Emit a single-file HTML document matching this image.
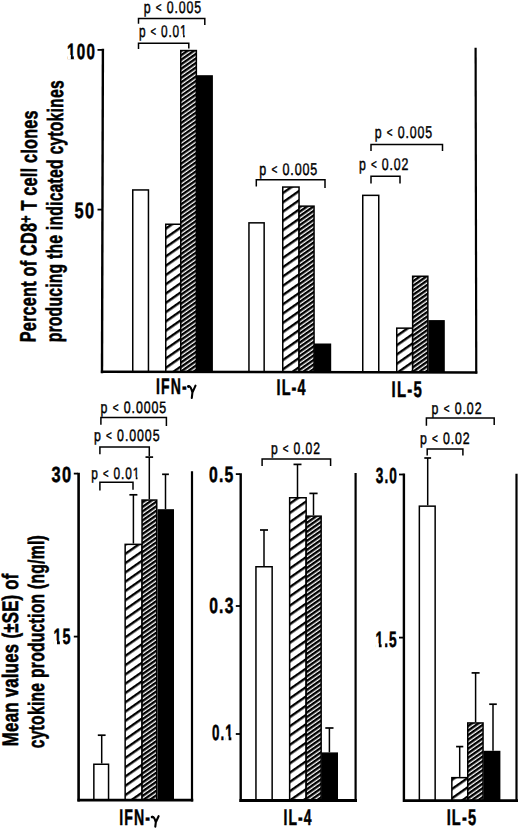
<!DOCTYPE html>
<html><head><meta charset="utf-8"><title>figure</title>
<style>
html,body{margin:0;padding:0;background:#fff;}
body{width:520px;height:829px;overflow:hidden;}
svg{display:block;}
text{font-family:"Liberation Sans", sans-serif;fill:#000;}
</style></head>
<body>
<svg width="520" height="829" viewBox="0 0 520 829" text-rendering="geometricPrecision">
<defs>
<pattern id="hs" patternUnits="userSpaceOnUse" width="20" height="7.6" patternTransform="rotate(-35)">
<rect x="0" y="0" width="20" height="7.6" fill="#fff"/><rect x="0" y="0" width="20" height="2.4" fill="#000"/></pattern>
<pattern id="hd" patternUnits="userSpaceOnUse" width="20" height="3.7" patternTransform="rotate(-35)">
<rect x="0" y="0" width="20" height="3.7" fill="#fff"/><rect x="0" y="0" width="20" height="2.4" fill="#000"/></pattern>
</defs>
<rect x="0" y="0" width="520" height="829" fill="#fff"/>
<rect x="132.75" y="189.95" width="15.70" height="182.15" fill="#fff" stroke="#000" stroke-width="1.5"/>
<rect x="165.75" y="224.25" width="15.00" height="147.85" fill="url(#hs)" stroke="#000" stroke-width="1.5"/>
<rect x="180.75" y="50.55" width="15.60" height="321.55" fill="url(#hd)" stroke="#000" stroke-width="1.5"/>
<rect x="197.65" y="75.95" width="14.50" height="296.15" fill="#000" stroke="#000" stroke-width="1.5"/>
<rect x="248.95" y="222.85" width="15.20" height="149.25" fill="#fff" stroke="#000" stroke-width="1.5"/>
<rect x="282.75" y="187.05" width="16.30" height="185.05" fill="url(#hs)" stroke="#000" stroke-width="1.5"/>
<rect x="299.05" y="206.15" width="15.00" height="165.95" fill="url(#hd)" stroke="#000" stroke-width="1.5"/>
<rect x="314.85" y="344.25" width="15.60" height="27.85" fill="#000" stroke="#000" stroke-width="1.5"/>
<rect x="362.75" y="195.35" width="16.00" height="176.75" fill="#fff" stroke="#000" stroke-width="1.5"/>
<rect x="396.75" y="328.15" width="15.90" height="43.95" fill="url(#hs)" stroke="#000" stroke-width="1.5"/>
<rect x="412.65" y="276.25" width="15.20" height="95.85" fill="url(#hd)" stroke="#000" stroke-width="1.5"/>
<rect x="429.15" y="320.85" width="14.90" height="51.25" fill="#000" stroke="#000" stroke-width="1.5"/>
<rect x="93.85" y="764.25" width="14.70" height="35.85" fill="#fff" stroke="#000" stroke-width="1.5"/>
<rect x="125.15" y="544.35" width="16.90" height="255.75" fill="url(#hs)" stroke="#000" stroke-width="1.5"/>
<rect x="142.05" y="500.05" width="14.70" height="300.05" fill="url(#hd)" stroke="#000" stroke-width="1.5"/>
<rect x="158.25" y="509.95" width="15.00" height="290.15" fill="#000" stroke="#000" stroke-width="1.5"/>
<rect x="255.95" y="566.75" width="16.20" height="233.75" fill="#fff" stroke="#000" stroke-width="1.5"/>
<rect x="289.65" y="497.75" width="16.50" height="302.75" fill="url(#hs)" stroke="#000" stroke-width="1.5"/>
<rect x="306.15" y="516.15" width="15.00" height="284.35" fill="url(#hd)" stroke="#000" stroke-width="1.5"/>
<rect x="322.25" y="753.15" width="15.00" height="47.35" fill="#000" stroke="#000" stroke-width="1.5"/>
<rect x="419.35" y="506.15" width="15.80" height="294.45" fill="#fff" stroke="#000" stroke-width="1.5"/>
<rect x="451.85" y="777.65" width="15.90" height="22.95" fill="url(#hs)" stroke="#000" stroke-width="1.5"/>
<rect x="467.75" y="722.95" width="15.30" height="77.65" fill="url(#hd)" stroke="#000" stroke-width="1.5"/>
<rect x="484.25" y="751.55" width="15.40" height="49.05" fill="#000" stroke="#000" stroke-width="1.5"/>
<line x1="102.9" y1="48.8" x2="102.0" y2="373.2" stroke="#000" stroke-width="2.4"/>
<line x1="100.8" y1="371.75" x2="477.3" y2="372.5" stroke="#000" stroke-width="2.5"/>
<line x1="475.6" y1="47.8" x2="476.25" y2="373.4" stroke="#000" stroke-width="2.2"/>
<line x1="97.5" y1="49.9" x2="102" y2="49.9" stroke="#000" stroke-width="1.8"/>
<line x1="97.5" y1="209.6" x2="102" y2="209.6" stroke="#000" stroke-width="1.8"/>
<path d="M138.5,23.8 L138.5,18.5 L204.8,18.5 L204.8,25" fill="none" stroke="#000" stroke-width="1.5"/>
<path d="M138.5,49 L138.5,43.3 L188.8,43.3 L188.8,48.5" fill="none" stroke="#000" stroke-width="1.5"/>
<path d="M256.3,186.5 L256.3,179.8 L325.0,179.8 L325.0,188" fill="none" stroke="#000" stroke-width="1.5"/>
<path d="M371.0,151 L371.0,144.4 L442.5,144.4 L442.5,151" fill="none" stroke="#000" stroke-width="1.5"/>
<path d="M371.0,183.6 L371.0,176.3 L400.0,176.3 L400.0,183.6" fill="none" stroke="#000" stroke-width="1.5"/>
<line x1="78.6" y1="472.8" x2="78.6" y2="801.5" stroke="#000" stroke-width="2.6"/>
<line x1="77.5" y1="800.1" x2="193.3" y2="800.1" stroke="#000" stroke-width="2.8"/>
<line x1="192.0" y1="471.3" x2="192.0" y2="801.5" stroke="#000" stroke-width="2.2"/>
<line x1="73.8" y1="473.6" x2="78" y2="473.6" stroke="#000" stroke-width="1.8"/>
<line x1="73.8" y1="636.6" x2="78" y2="636.6" stroke="#000" stroke-width="1.8"/>
<line x1="101.7" y1="763.5" x2="101.7" y2="735.2" stroke="#000" stroke-width="1.5"/>
<line x1="97.8" y1="735.2" x2="105.60000000000001" y2="735.2" stroke="#000" stroke-width="1.7"/>
<line x1="133.4" y1="543.6" x2="133.4" y2="494.8" stroke="#000" stroke-width="1.5"/>
<line x1="129.4" y1="494.8" x2="137.4" y2="494.8" stroke="#000" stroke-width="1.7"/>
<line x1="149.3" y1="499.3" x2="149.3" y2="457.1" stroke="#000" stroke-width="1.5"/>
<line x1="145.5" y1="457.1" x2="153.10000000000002" y2="457.1" stroke="#000" stroke-width="1.7"/>
<line x1="165.5" y1="509.2" x2="165.5" y2="474.3" stroke="#000" stroke-width="1.5"/>
<line x1="162.1" y1="474.3" x2="168.9" y2="474.3" stroke="#000" stroke-width="1.7"/>
<path d="M100.9,424.8 L100.9,417.5 L166.4,417.5 L166.4,425.9" fill="none" stroke="#000" stroke-width="1.5"/>
<path d="M99.9,454.2 L99.9,447.1 L149.3,447.1 L149.3,456" fill="none" stroke="#000" stroke-width="1.5"/>
<path d="M99.9,490.5 L99.9,482.2 L133.0,482.2 L133.0,489.8" fill="none" stroke="#000" stroke-width="1.5"/>
<line x1="240.7" y1="473.3" x2="240.7" y2="802.0" stroke="#000" stroke-width="2.4"/>
<line x1="239.4" y1="800.5" x2="357.0" y2="800.5" stroke="#000" stroke-width="2.8"/>
<line x1="355.6" y1="473.0" x2="355.6" y2="802.0" stroke="#000" stroke-width="2.2"/>
<line x1="235.8" y1="474.1" x2="240" y2="474.1" stroke="#000" stroke-width="1.8"/>
<line x1="235.8" y1="606.0" x2="240" y2="606.0" stroke="#000" stroke-width="1.8"/>
<line x1="235.8" y1="734.0" x2="240" y2="734.0" stroke="#000" stroke-width="1.8"/>
<line x1="264.0" y1="566.0" x2="264.0" y2="530.0" stroke="#000" stroke-width="1.5"/>
<line x1="260.0" y1="530.0" x2="268.0" y2="530.0" stroke="#000" stroke-width="1.7"/>
<line x1="297.5" y1="497.0" x2="297.5" y2="464.4" stroke="#000" stroke-width="1.5"/>
<line x1="293.5" y1="464.4" x2="301.5" y2="464.4" stroke="#000" stroke-width="1.7"/>
<line x1="313.5" y1="515.4" x2="313.5" y2="493.4" stroke="#000" stroke-width="1.5"/>
<line x1="309.4" y1="493.4" x2="317.6" y2="493.4" stroke="#000" stroke-width="1.7"/>
<line x1="329.4" y1="752.4" x2="329.4" y2="728.0" stroke="#000" stroke-width="1.5"/>
<line x1="325.29999999999995" y1="728.0" x2="333.5" y2="728.0" stroke="#000" stroke-width="1.7"/>
<path d="M262.1,466.0 L262.1,459.0 L330.6,459.0 L330.6,466.0" fill="none" stroke="#000" stroke-width="1.5"/>
<line x1="403.9" y1="473.6" x2="403.9" y2="802.0" stroke="#000" stroke-width="2.4"/>
<line x1="403.0" y1="800.6" x2="518.0" y2="800.6" stroke="#000" stroke-width="2.8"/>
<line x1="516.5" y1="473.7" x2="516.5" y2="802.0" stroke="#000" stroke-width="2.2"/>
<line x1="399" y1="474.5" x2="403.5" y2="474.5" stroke="#000" stroke-width="1.8"/>
<line x1="399" y1="637.6" x2="403.5" y2="637.6" stroke="#000" stroke-width="1.8"/>
<line x1="427.7" y1="505.4" x2="427.7" y2="458.0" stroke="#000" stroke-width="1.5"/>
<line x1="424.3" y1="458.0" x2="431.09999999999997" y2="458.0" stroke="#000" stroke-width="1.7"/>
<line x1="459.7" y1="776.9" x2="459.7" y2="746.6" stroke="#000" stroke-width="1.5"/>
<line x1="456.09999999999997" y1="746.6" x2="463.3" y2="746.6" stroke="#000" stroke-width="1.7"/>
<line x1="475.6" y1="722.2" x2="475.6" y2="672.9" stroke="#000" stroke-width="1.5"/>
<line x1="471.6" y1="672.9" x2="479.6" y2="672.9" stroke="#000" stroke-width="1.7"/>
<line x1="493.0" y1="750.8" x2="493.0" y2="704.2" stroke="#000" stroke-width="1.5"/>
<line x1="489.2" y1="704.2" x2="496.8" y2="704.2" stroke="#000" stroke-width="1.7"/>
<path d="M426.4,425.7 L426.4,418.0 L494.2,418.0 L494.2,425.0" fill="none" stroke="#000" stroke-width="1.5"/>
<path d="M427.2,455.6 L427.2,449.1 L462.9,449.1 L462.9,455.6" fill="none" stroke="#000" stroke-width="1.5"/>
<text id="tp1" x="143.66" y="13.44" font-size="17" font-weight="normal" stroke="#000" stroke-width="0.45" letter-spacing="1.2" textLength="58.28" lengthAdjust="spacingAndGlyphs">p <tspan font-size="13.6" baseline-shift="1.3">&lt;</tspan> 0.005</text>
<text id="tp2" x="139.00" y="37.00" font-size="17" font-weight="normal" stroke="#000" stroke-width="0.45" letter-spacing="1.2" textLength="48.41" lengthAdjust="spacingAndGlyphs">p <tspan font-size="13.6" baseline-shift="1.3">&lt;</tspan> 0.01</text>
<text id="tp3" x="259.25" y="175.48" font-size="17" font-weight="normal" stroke="#000" stroke-width="0.45" letter-spacing="1.2" textLength="58.95" lengthAdjust="spacingAndGlyphs">p <tspan font-size="13.6" baseline-shift="1.3">&lt;</tspan> 0.005</text>
<text id="tp4" x="374.66" y="138.44" font-size="17" font-weight="normal" stroke="#000" stroke-width="0.45" letter-spacing="1.2" textLength="58.28" lengthAdjust="spacingAndGlyphs">p <tspan font-size="13.6" baseline-shift="1.3">&lt;</tspan> 0.005</text>
<text id="tp5" x="358.93" y="169.55" font-size="17" font-weight="normal" stroke="#000" stroke-width="0.45" letter-spacing="1.2" textLength="50.37" lengthAdjust="spacingAndGlyphs">p <tspan font-size="13.6" baseline-shift="1.3">&lt;</tspan> 0.02</text>
<text id="t100" x="67.08" y="58.55" font-size="22" font-weight="bold" stroke="#000" stroke-width="0.5" letter-spacing="1.8" textLength="29.05" lengthAdjust="spacingAndGlyphs">100</text>
<text id="t50" x="74.51" y="218.20" font-size="22" font-weight="bold" stroke="#000" stroke-width="0.5" letter-spacing="1.8" textLength="20.88" lengthAdjust="spacingAndGlyphs">50</text>
<text id="tx1" x="155.99" y="394.16" font-size="22.5" font-weight="bold" stroke="#000" stroke-width="0.5" letter-spacing="1.8" textLength="31.69" lengthAdjust="spacingAndGlyphs">IFN-</text>
<text id="tx2" x="276.49" y="395.08" font-size="22.5" font-weight="bold" stroke="#000" stroke-width="0.5" letter-spacing="1.8" textLength="30.26" lengthAdjust="spacingAndGlyphs">IL-4</text>
<text id="tx3" x="391.56" y="396.81" font-size="22.5" font-weight="bold" stroke="#000" stroke-width="0.5" letter-spacing="1.8" textLength="31.35" lengthAdjust="spacingAndGlyphs">IL-5</text>
<text id="bp1" x="100.57" y="412.95" font-size="16.5" font-weight="normal" stroke="#000" stroke-width="0.45" letter-spacing="1.2" textLength="66.58" lengthAdjust="spacingAndGlyphs">p <tspan font-size="13.2" baseline-shift="1.3">&lt;</tspan> 0.0005</text>
<text id="bp2" x="93.91" y="440.69" font-size="16.5" font-weight="normal" stroke="#000" stroke-width="0.45" letter-spacing="1.2" textLength="66.52" lengthAdjust="spacingAndGlyphs">p <tspan font-size="13.2" baseline-shift="1.3">&lt;</tspan> 0.0005</text>
<text id="bp3" x="91.29" y="479.14" font-size="16.5" font-weight="normal" stroke="#000" stroke-width="0.45" letter-spacing="1.2" textLength="48.85" lengthAdjust="spacingAndGlyphs">p <tspan font-size="13.2" baseline-shift="1.3">&lt;</tspan> 0.01</text>
<text id="bp4" x="270.88" y="453.51" font-size="16.5" font-weight="normal" stroke="#000" stroke-width="0.45" letter-spacing="1.2" textLength="49.93" lengthAdjust="spacingAndGlyphs">p <tspan font-size="13.2" baseline-shift="1.3">&lt;</tspan> 0.02</text>
<text id="bp5" x="431.57" y="413.90" font-size="16.5" font-weight="normal" stroke="#000" stroke-width="0.45" letter-spacing="1.2" textLength="50.86" lengthAdjust="spacingAndGlyphs">p <tspan font-size="13.2" baseline-shift="1.3">&lt;</tspan> 0.02</text>
<text id="bp6" x="419.92" y="443.81" font-size="16.5" font-weight="normal" stroke="#000" stroke-width="0.45" letter-spacing="1.2" textLength="50.69" lengthAdjust="spacingAndGlyphs">p <tspan font-size="13.2" baseline-shift="1.3">&lt;</tspan> 0.02</text>
<text id="b30" x="51.45" y="481.68" font-size="22" font-weight="bold" stroke="#000" stroke-width="0.5" letter-spacing="1.8" textLength="20.98" lengthAdjust="spacingAndGlyphs">30</text>
<text id="b15" x="53.48" y="644.20" font-size="22" font-weight="bold" stroke="#000" stroke-width="0.5" letter-spacing="1.8" textLength="18.30" lengthAdjust="spacingAndGlyphs">15</text>
<text id="b05" x="208.91" y="481.92" font-size="22" font-weight="bold" stroke="#000" stroke-width="0.5" letter-spacing="1.8" textLength="25.76" lengthAdjust="spacingAndGlyphs">0.5</text>
<text id="b03" x="209.13" y="613.33" font-size="22" font-weight="bold" stroke="#000" stroke-width="0.5" letter-spacing="1.8" textLength="25.61" lengthAdjust="spacingAndGlyphs">0.3</text>
<text id="b01" x="212.04" y="739.94" font-size="22" font-weight="bold" stroke="#000" stroke-width="0.5" letter-spacing="1.8" textLength="21.86" lengthAdjust="spacingAndGlyphs">0.1</text>
<text id="b30b" x="375.74" y="482.76" font-size="22" font-weight="bold" stroke="#000" stroke-width="0.5" letter-spacing="1.8" textLength="22.25" lengthAdjust="spacingAndGlyphs">3.0</text>
<text id="b15b" x="375.48" y="647.04" font-size="22" font-weight="bold" stroke="#000" stroke-width="0.5" letter-spacing="1.8" textLength="22.37" lengthAdjust="spacingAndGlyphs">1.5</text>
<text id="bx1" x="119.20" y="825.10" font-size="22.5" font-weight="bold" stroke="#000" stroke-width="0.5" letter-spacing="1.8" textLength="31.93" lengthAdjust="spacingAndGlyphs">IFN-</text>
<text id="bx2" x="283.50" y="825.16" font-size="22.5" font-weight="bold" stroke="#000" stroke-width="0.5" letter-spacing="1.8" textLength="29.23" lengthAdjust="spacingAndGlyphs">IL-4</text>
<text id="bx3" x="446.65" y="824.71" font-size="22.5" font-weight="bold" stroke="#000" stroke-width="0.5" letter-spacing="1.8" textLength="30.52" lengthAdjust="spacingAndGlyphs">IL-5</text>
<text transform="translate(35.60,342.31) rotate(-89.6)" x="0" y="0" font-size="22.3" font-weight="bold" stroke="#000" stroke-width="0.6" letter-spacing="0.4" textLength="232.16" lengthAdjust="spacingAndGlyphs">Percent of CD8<tspan dy="-5" font-size="17">+</tspan><tspan dy="5"> T cell clones</tspan></text>
<text transform="translate(61.40,342.36) rotate(-89.6)" x="0" y="0" font-size="22.3" font-weight="bold" stroke="#000" stroke-width="0.6" letter-spacing="0.4" textLength="262.20" lengthAdjust="spacingAndGlyphs">producing the indicated cytokines</text>
<text transform="translate(17.90,746.16) rotate(-90)" x="0" y="0" font-size="22.5" font-weight="bold" stroke="#000" stroke-width="0.6" letter-spacing="0.4" textLength="172.89" lengthAdjust="spacingAndGlyphs">Mean values (&#177;SE) of</text>
<text transform="translate(43.60,748.33) rotate(-90)" x="0" y="0" font-size="22.5" font-weight="bold" stroke="#000" stroke-width="0.6" letter-spacing="0.4" textLength="213.33" lengthAdjust="spacingAndGlyphs">cytokine production (ng/ml)</text>
<path d="M188.4,386.4 C190.3,385.6 191.4,388.6 192.4,392.6 M195.5,385.6 L192.4,392.6 L191.8,398.0" fill="none" stroke="#000" stroke-width="2.1" stroke-linecap="round" stroke-linejoin="round"/>
<circle cx="188.5" cy="386.5" r="1.4" fill="#000"/>
<path d="M152.0,817.0 C153.9,816.4 154.9,819.0 155.8,822.3 M158.6,816.2 L155.8,822.3 L155.3,826.6" fill="none" stroke="#000" stroke-width="2.1" stroke-linecap="round" stroke-linejoin="round"/>
<circle cx="152.1" cy="817.1" r="1.4" fill="#000"/>
<rect x="180.27" y="34.40" width="2.79" height="3.72" fill="#fff"/>
<rect x="184.80" y="34.40" width="2.59" height="3.72" fill="#fff"/>
<rect x="67.43" y="54.95" width="3.42" height="4.75" fill="#fff"/>
<rect x="73.84" y="54.95" width="3.10" height="4.75" fill="#fff"/>
<rect x="132.95" y="476.58" width="2.81" height="3.68" fill="#fff"/>
<rect x="137.50" y="476.58" width="2.61" height="3.68" fill="#fff"/>
<rect x="53.77" y="640.60" width="3.26" height="4.75" fill="#fff"/>
<rect x="59.88" y="640.60" width="2.95" height="4.75" fill="#fff"/>
<rect x="225.58" y="736.34" width="3.06" height="4.75" fill="#fff"/>
<rect x="231.35" y="736.34" width="2.77" height="4.75" fill="#fff"/>
<rect x="375.72" y="643.44" width="3.13" height="4.75" fill="#fff"/>
<rect x="381.60" y="643.44" width="2.83" height="4.75" fill="#fff"/>
</svg>
</body></html>
